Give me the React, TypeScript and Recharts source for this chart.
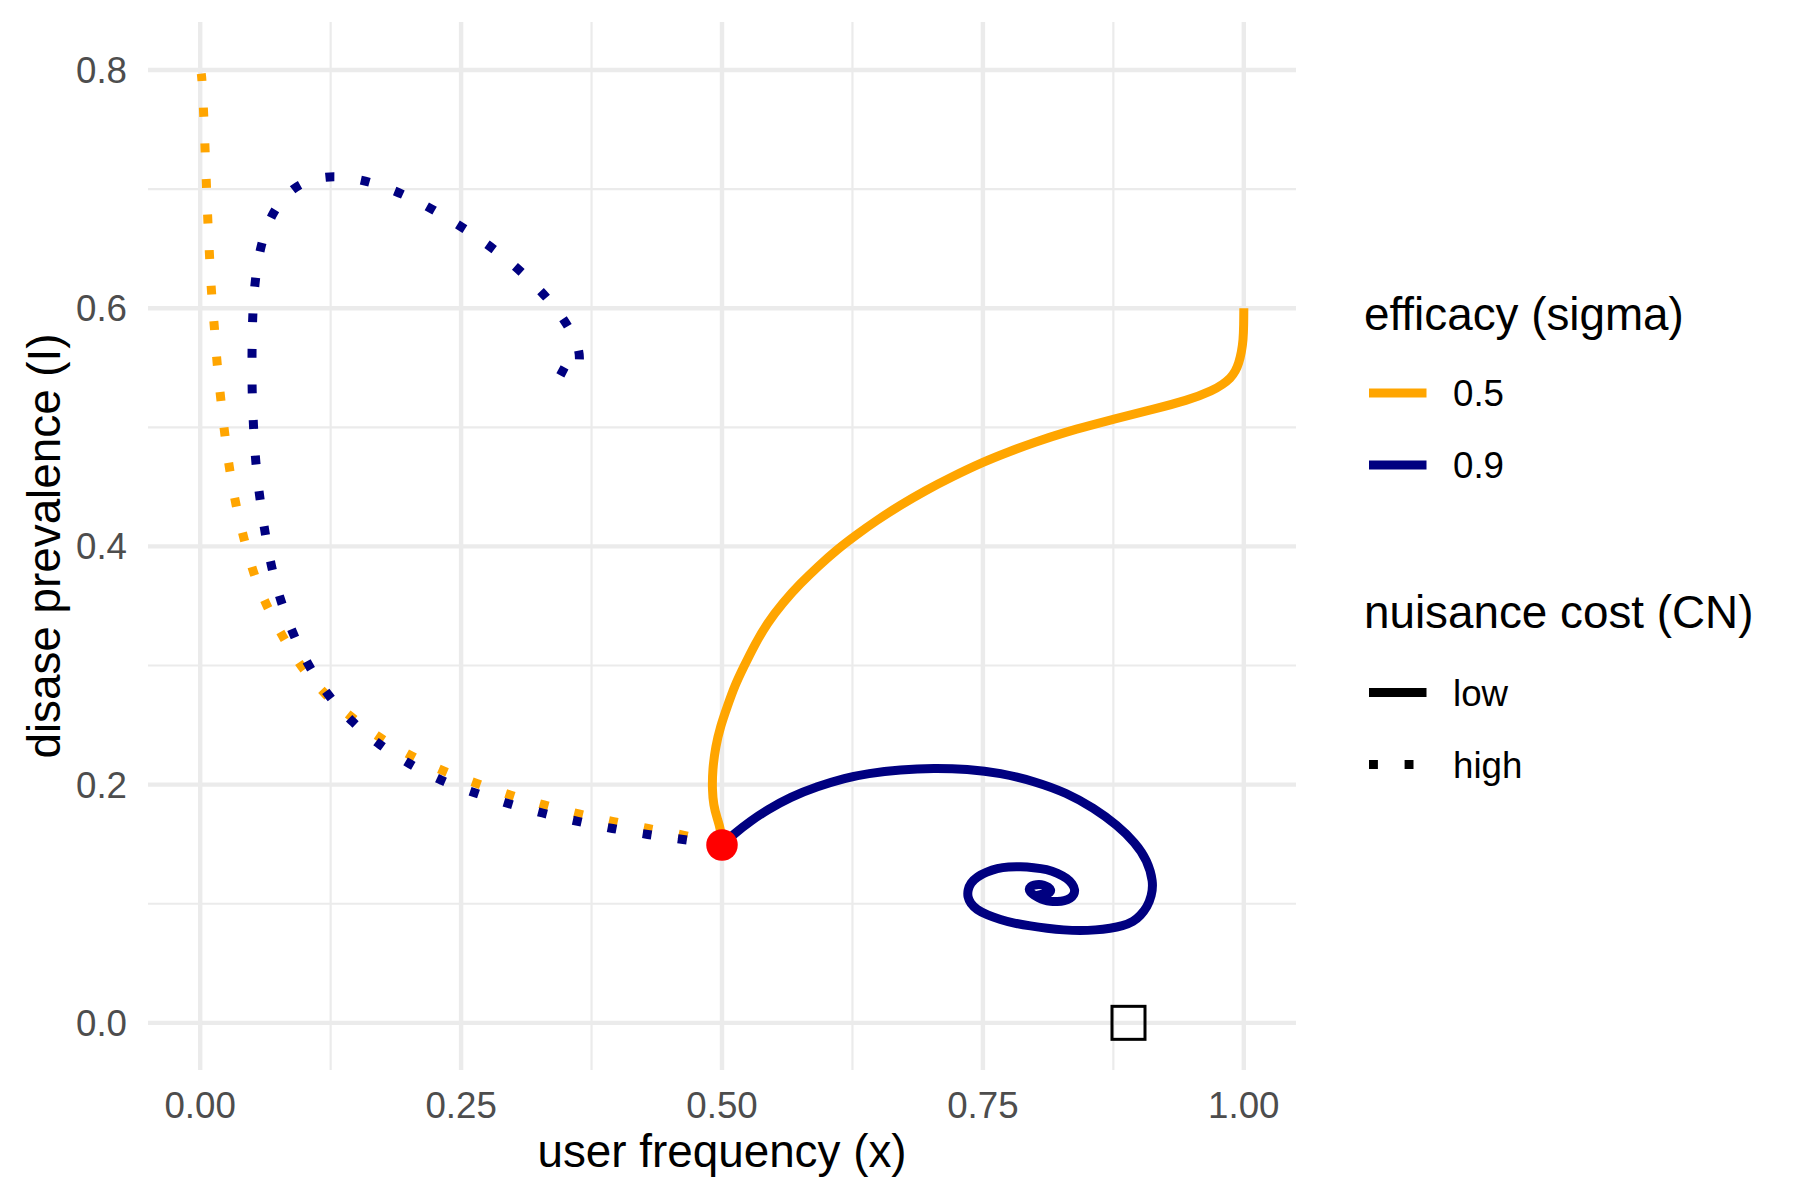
import React from "react";
import {
  ComposedChart,
  Line,
  Scatter,
  XAxis,
  YAxis,
  CartesianGrid,
} from "recharts";

type Pt = [number, number];

// axis ticks and minor grid positions
const xTicks = [0, 0.25, 0.5, 0.75, 1];
const yTicks = [0, 0.2, 0.4, 0.6, 0.8];
const xMinor = [0.125, 0.375, 0.625, 0.875];
const yMinor = [0.1, 0.3, 0.5, 0.7];

// trajectories, each one starting at the equilibrium point
// sigma = 0.5, CN low
const sigma05Low: Pt[] = [
  [0.5, 0.1493], [0.4986, 0.1633], [0.4952, 0.172], [0.4919, 0.1829],
  [0.4906, 0.1955], [0.4909, 0.2123], [0.4938, 0.2318], [0.4986, 0.2492],
  [0.505, 0.2654], [0.512, 0.2828], [0.5209, 0.299], [0.5311, 0.3172],
  [0.5433, 0.3355], [0.558, 0.3525], [0.5752, 0.369], [0.5925, 0.3836],
  [0.6097, 0.397], [0.6279, 0.4092], [0.648, 0.4218], [0.6711, 0.4348],
  [0.695, 0.447], [0.719, 0.4579], [0.7509, 0.4712], [0.7745, 0.4793],
  [0.7988, 0.4873], [0.8308, 0.4964], [0.8531, 0.5016], [0.8754, 0.5068],
  [0.9106, 0.5146], [0.9458, 0.5224], [0.9713, 0.5314], [0.9796, 0.536],
  [0.9873, 0.5412], [0.9921, 0.5473], [0.9952, 0.5538], [0.9978, 0.5633],
  [0.9994, 0.5733], [0.9999, 0.5859], [1.0, 0.6],
];

// sigma = 0.9, CN low
const sigma09Low: Pt[] = [
  [0.5, 0.1493], [0.5113, 0.1585], [0.5273, 0.1695], [0.5433, 0.1787],
  [0.5656, 0.1896], [0.5912, 0.1984], [0.6183, 0.2056], [0.6391, 0.2093],
  [0.6711, 0.2127], [0.703, 0.214], [0.735, 0.2131], [0.7669, 0.2098],
  [0.7988, 0.203], [0.8308, 0.193], [0.856, 0.1804], [0.8787, 0.1661],
  [0.8962, 0.151], [0.9074, 0.1367], [0.9135, 0.1182], [0.9116, 0.1065],
  [0.9074, 0.0972], [0.901, 0.0901], [0.8943, 0.0849], [0.8838, 0.0813],
  [0.8723, 0.0794], [0.8579, 0.0779], [0.8435, 0.0773], [0.8272, 0.0779],
  [0.8116, 0.0794], [0.7956, 0.0813], [0.7796, 0.0836], [0.7669, 0.0867],
  [0.7541, 0.0905], [0.7439, 0.0951], [0.7381, 0.1003], [0.7353, 0.1056],
  [0.7355, 0.1115], [0.7381, 0.1174], [0.7445, 0.1227], [0.7535, 0.1266],
  [0.7637, 0.1297], [0.7745, 0.131], [0.786, 0.1311], [0.7985, 0.1304],
  [0.8116, 0.1289], [0.8215, 0.1258], [0.8308, 0.1213], [0.8359, 0.1166],
  [0.8384, 0.1115], [0.8373, 0.1077], [0.8339, 0.1045], [0.8282, 0.1024],
  [0.8212, 0.1017], [0.8148, 0.1019], [0.8084, 0.1031], [0.8033, 0.105],
  [0.7988, 0.1073], [0.7951, 0.1098], [0.794, 0.1121], [0.7956, 0.1145],
  [0.7988, 0.1157], [0.8038, 0.1164], [0.8084, 0.1157], [0.8129, 0.114],
  [0.8154, 0.1115], [0.8143, 0.1094], [0.8116, 0.1082], [0.8062, 0.108],
  [0.8045, 0.1087], [0.8023, 0.1098], [0.802, 0.1109],
];

// sigma = 0.5, CN high
const sigma05High: Pt[] = [
  [0.5, 0.1493], [0.463, 0.158], [0.429, 0.163], [0.396, 0.169],
  [0.363, 0.175], [0.329, 0.183], [0.297, 0.191], [0.265, 0.201],
  [0.233, 0.211], [0.202, 0.224], [0.172, 0.239], [0.144, 0.257],
  [0.119, 0.276], [0.097, 0.298], [0.079, 0.324], [0.063, 0.351],
  [0.051, 0.377], [0.042, 0.406], [0.034, 0.435], [0.028, 0.465],
  [0.0235, 0.494], [0.0197, 0.524], [0.016, 0.554], [0.0137, 0.584],
  [0.0107, 0.613], [0.009, 0.643], [0.0073, 0.673], [0.006, 0.703],
  [0.0047, 0.733], [0.0034, 0.763], [0.0017, 0.793], [0.001, 0.797],
];

// sigma = 0.9, CN high
const sigma09High: Pt[] = [
  [0.5, 0.1493], [0.462, 0.154], [0.429, 0.158], [0.395, 0.163],
  [0.362, 0.169], [0.328, 0.176], [0.295, 0.184], [0.263, 0.193],
  [0.231, 0.203], [0.201, 0.217], [0.172, 0.233], [0.146, 0.252],
  [0.123, 0.274], [0.104, 0.299], [0.089, 0.326], [0.077, 0.354],
  [0.068, 0.383], [0.062, 0.412], [0.057, 0.441], [0.053, 0.471],
  [0.051, 0.501], [0.0496, 0.531], [0.0496, 0.561], [0.05, 0.59],
  [0.052, 0.62], [0.057, 0.65], [0.067, 0.678], [0.087, 0.702],
  [0.118, 0.712], [0.152, 0.709], [0.184, 0.7], [0.215, 0.687],
  [0.244, 0.672], [0.272, 0.656], [0.3, 0.637], [0.324, 0.617],
  [0.346, 0.595], [0.363, 0.569], [0.3639, 0.555], [0.3611, 0.544],
  [0.358, 0.5417], [0.345, 0.548], [0.329, 0.5557],
];

const equilibrium: Pt[] = [[0.5, 0.1493]];
const startPoint: Pt[] = [[0.8895, 0]];

const sigmaLevels = ["0.5", "0.9"];
const costLevels = ["low", "high"];

const COLORS: Record<string, string> = {
  "0.5": "#FFA500",
  "0.9": "#000080",
};
const DASH: Record<string, string | undefined> = {
  low: undefined,
  high: "8.9 26.7",
};

const FONT = '"Liberation Sans", Arial, Helvetica, sans-serif';
const GRID = "#EBEBEB";

const toRows = (pts: Pt[]) => pts.map(([x, y]) => ({ x, y }));

const series = [
  { key: "s05low", pts: sigma05Low, sigma: "0.5", cost: "low" },
  { key: "s05high", pts: sigma05High, sigma: "0.5", cost: "high" },
  { key: "s09low", pts: sigma09Low, sigma: "0.9", cost: "low" },
  { key: "s09high", pts: sigma09High, sigma: "0.9", cost: "high" },
];

const RedDot = (props: any) => (
  <circle cx={props.cx} cy={props.cy} r={15.75} fill="#FF0000" />
);

const OpenSquare = (props: any) => (
  <rect
    x={props.cx - 16.5}
    y={props.cy - 16.5}
    width={33}
    height={33}
    fill="none"
    stroke="#000"
    strokeWidth={3}
  />
);

const LegendBox = () => (
  <svg
    width={460}
    height={560}
    style={{ position: "absolute", left: 1340, top: 260 }}
    fontFamily={FONT}
  >
    <text x={24} y={70} fontSize={45.8} fill="#000">
      efficacy (sigma)
    </text>
    {sigmaLevels.map((s, i) => (
      <g key={s}>
        <line
          x1={29}
          x2={86.5}
          y1={133 + i * 72}
          y2={133 + i * 72}
          stroke={COLORS[s]}
          strokeWidth={9}
        />
        <text x={113} y={146 + i * 72} fontSize={36.7} fill="#000">
          {s}
        </text>
      </g>
    ))}
    <text x={24} y={368} fontSize={45.8} fill="#000">
      nuisance cost (CN)
    </text>
    {costLevels.map((c, i) => (
      <g key={c}>
        <line
          x1={29}
          x2={86.5}
          y1={432.6 + i * 72}
          y2={432.6 + i * 72}
          stroke="#000"
          strokeWidth={9}
          strokeDasharray={DASH[c]}
        />
        <text x={113} y={445.6 + i * 72} fontSize={36.7} fill="#000">
          {c}
        </text>
      </g>
    ))}
  </svg>
);

const App: React.FC = () => {
  return (
    <div
      style={{
        position: "absolute",
        left: 0,
        top: 0,
        width: 1800,
        height: 1200,
        background: "#fff",
        fontFamily: FONT,
      }}
    >
      <ComposedChart
        width={1800}
        height={1200}
        margin={{ top: 22, right: 504, bottom: 0, left: 0 }}
      >
        <CartesianGrid
          stroke={GRID}
          strokeWidth={2.2}
          verticalValues={xMinor}
          horizontalValues={yMinor}
          syncWithTicks
        />
        <CartesianGrid stroke={GRID} strokeWidth={4.4} syncWithTicks />
        <XAxis
          type="number"
          dataKey="x"
          domain={[-0.05, 1.05]}
          ticks={xTicks}
          interval={0}
          allowDataOverflow
          tickFormatter={(v: number) => v.toFixed(2)}
          axisLine={false}
          tickLine={false}
          tickSize={0}
          tickMargin={22}
          height={130}
          tick={{ fill: "#4D4D4D", fontSize: 36.7 }}
          label={{
            value: "user frequency (x)",
            position: "insideBottom",
            offset: 33,
            fill: "#000",
            fontSize: 45.8,
          }}
        />
        <YAxis
          type="number"
          dataKey="y"
          domain={[-0.0396, 0.8403]}
          ticks={yTicks}
          interval={0}
          allowDataOverflow
          tickFormatter={(v: number) => v.toFixed(1)}
          axisLine={false}
          tickLine={false}
          tickSize={0}
          tickMargin={21}
          width={148}
          tick={{ fill: "#4D4D4D", fontSize: 36.7 }}
          label={{
            value: "disase prevalence (I)",
            angle: -90,
            position: "insideLeft",
            offset: 43.5,
            fill: "#000",
            fontSize: 45.8,
            style: { textAnchor: "middle" },
          }}
        />
        {series.map((s) => (
          <Line
            key={s.key}
            data={toRows(s.pts)}
            dataKey="y"
            type="basis"
            stroke={COLORS[s.sigma]}
            strokeWidth={9}
            strokeDasharray={DASH[s.cost]}
            strokeLinejoin="round"
            dot={false}
            activeDot={false}
            isAnimationActive={false}
          />
        ))}
        <Scatter
          data={toRows(startPoint)}
          dataKey="y"
          shape={OpenSquare}
          isAnimationActive={false}
        />
        <Scatter
          data={toRows(equilibrium)}
          dataKey="y"
          shape={RedDot}
          isAnimationActive={false}
        />
      </ComposedChart>
      <LegendBox />
    </div>
  );
};

export default App;
